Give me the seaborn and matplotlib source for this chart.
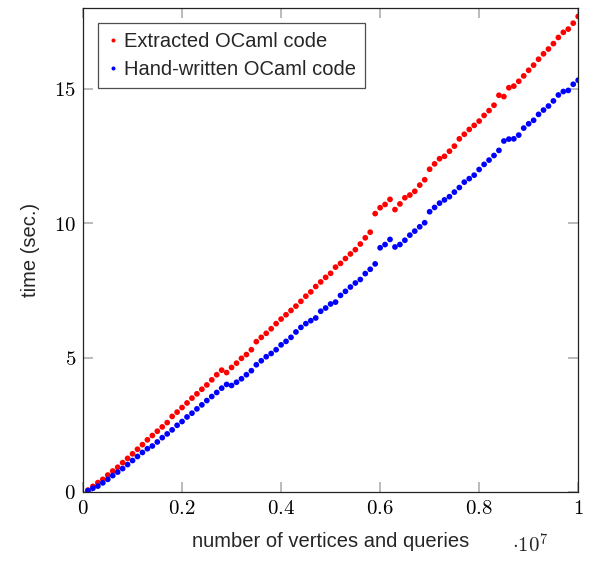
import numpy as np
import pandas as pd
import matplotlib
matplotlib.use("Agg")
import matplotlib.pyplot as plt
import seaborn as sns

# number of vertices and queries: 1e5 ... 1e7 in steps of 1e5
sizes = np.arange(1, 101) * 1e5

extracted = [
    0.07, 0.21, 0.35, 0.47, 0.63, 0.78, 0.92, 1.09, 1.25, 1.42,
    1.59, 1.76, 1.94, 2.10, 2.26, 2.42, 2.58, 2.81, 2.97, 3.14,
    3.31, 3.49, 3.65, 3.82, 3.98, 4.17, 4.36, 4.53, 4.44, 4.63,
    4.79, 4.97, 5.11, 5.29, 5.59, 5.75, 5.90, 6.07, 6.26, 6.43,
    6.59, 6.75, 6.91, 7.09, 7.28, 7.44, 7.64, 7.81, 7.98, 8.13,
    8.36, 8.50, 8.68, 8.85, 9.01, 9.22, 9.45, 9.66, 10.35, 10.57,
    10.69, 10.88, 10.50, 10.71, 10.94, 11.04, 11.18, 11.41, 11.61, 12.00,
    12.20, 12.39, 12.48, 12.67, 12.86, 13.13, 13.30, 13.48, 13.63, 13.79,
    14.00, 14.18, 14.38, 14.75, 14.70, 15.03, 15.09, 15.27, 15.47, 15.68,
    15.87, 16.09, 16.29, 16.47, 16.67, 16.90, 17.09, 17.21, 17.43, 17.68,
]

handwritten = [
    0.05, 0.14, 0.22, 0.34, 0.47, 0.61, 0.74, 0.87, 1.02, 1.17,
    1.32, 1.47, 1.61, 1.71, 1.86, 2.02, 2.16, 2.31, 2.48, 2.62,
    2.79, 2.93, 3.09, 3.24, 3.40, 3.55, 3.70, 3.86, 4.00, 3.96,
    4.08, 4.21, 4.36, 4.51, 4.73, 4.88, 5.03, 5.15, 5.29, 5.47,
    5.60, 5.75, 5.95, 6.12, 6.26, 6.37, 6.47, 6.72, 6.84, 6.99,
    7.06, 7.31, 7.46, 7.62, 7.77, 7.90, 8.12, 8.28, 8.48, 9.08,
    9.20, 9.39, 9.11, 9.20, 9.36, 9.55, 9.70, 9.86, 10.01, 10.42,
    10.58, 10.74, 10.86, 10.98, 11.15, 11.32, 11.52, 11.65, 11.78, 11.99,
    12.18, 12.34, 12.51, 12.70, 13.05, 13.12, 13.13, 13.27, 13.53, 13.69,
    13.82, 14.04, 14.20, 14.35, 14.54, 14.76, 14.89, 14.93, 15.16, 15.31,
]

labels = ["Extracted OCaml code", "Hand-written OCaml code"]
x_ticks = [0, 2e6, 4e6, 6e6, 8e6, 1e7]
x_tick_labels = ["$0$", "$0.2$", "$0.4$", "$0.6$", "$0.8$", "$1$"]
y_ticks = [0, 5, 10, 15]
y_tick_labels = ["$0$", "$5$", "$10$", "$15$"]

df = pd.DataFrame({
    "n": np.concatenate([sizes, sizes]),
    "time": extracted + handwritten,
    "code": [labels[0]] * len(extracted) + [labels[1]] * len(handwritten),
})

sns.set_style("ticks")
plt.rcParams["font.family"] = ["Liberation Sans", "DejaVu Sans"]
plt.rcParams["mathtext.fontset"] = "cm"

fig = plt.figure(figsize=(5.93, 5.61), dpi=100)
ax = fig.add_axes([0.140, 0.123, 0.835, 0.863])

sns.scatterplot(data=df, x="n", y="time", hue="code",
                palette={labels[0]: "#ff0000", labels[1]: "#0000ff"},
                s=17, linewidth=0, ax=ax)

ax.set_xlim(0, 1e7)
ax.set_ylim(0, 18)
ax.set_xticks(x_ticks)
ax.set_xticklabels(x_tick_labels)
ax.set_yticks(y_ticks)
ax.set_yticklabels(y_tick_labels)
ax.tick_params(direction="in", length=7, width=1.1, color="#a8a8a8",
               top=True, right=True, labelsize=15, labelcolor="black", pad=5)
for sp in ax.spines.values():
    sp.set_color("#222222")
    sp.set_linewidth(0.9)

ax.set_xlabel("number of vertices and queries", fontsize=14.5, labelpad=10)
ax.set_ylabel("time (sec.)", fontsize=14.5, labelpad=10)
fig.text(0.895, 0.008, r"$\cdot 10^{7}$", fontsize=15, ha="center", va="bottom")

leg = ax.legend(loc="upper left", bbox_to_anchor=(0.030, 0.969), borderaxespad=0,
                fontsize=14.5, frameon=True, fancybox=False, markerscale=0.7,
                handlelength=0.6, handletextpad=0.25, borderpad=0.45,
                labelspacing=0.45)
leg.get_frame().set_edgecolor("#222222")
leg.get_frame().set_linewidth(0.9)

fig.savefig("out.png", dpi=100)
